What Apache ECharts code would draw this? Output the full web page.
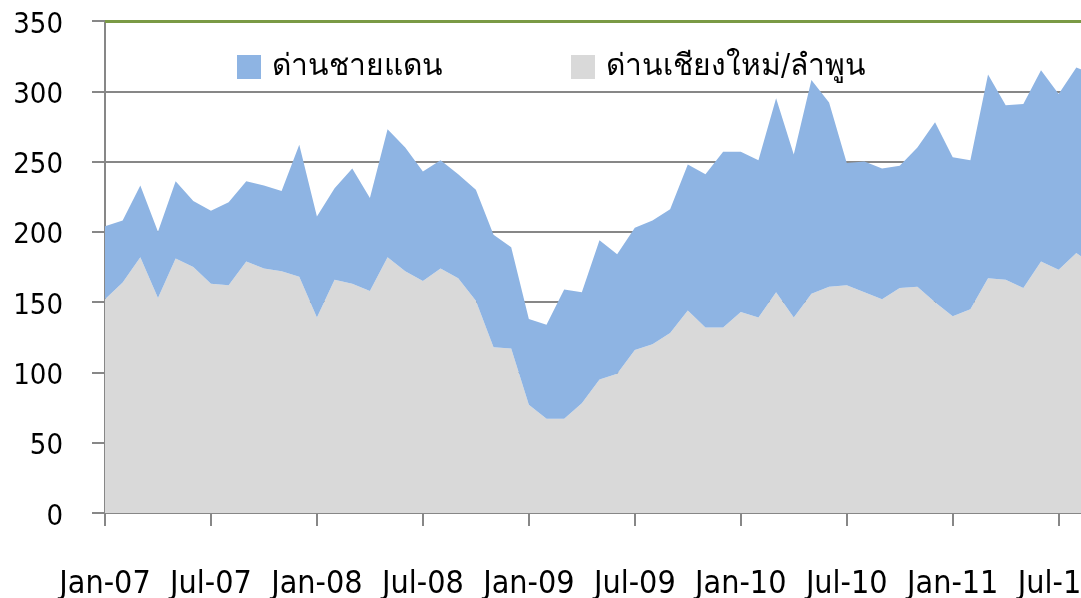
<!DOCTYPE html>
<html>
<head>
<meta charset="utf-8">
<script src="https://cdn.jsdelivr.net/npm/echarts@6/dist/echarts.min.js"></script>
<style>
  html, body { margin: 0; padding: 0; background: #fff; overflow: hidden; }
  #chart { width: 1120px; height: 598px; }
</style>
</head>
<body>
<div id="chart"></div>
<script>
// Monthly categories Jan-07 .. Sep-11
var monthNames = ['Jan', 'Feb', 'Mar', 'Apr', 'May', 'Jun', 'Jul', 'Aug', 'Sep', 'Oct', 'Nov', 'Dec'];
var categories = [];
for (var y = 7; y <= 11; y++) {
    for (var m = 0; m < 12; m++) {
        if (y === 11 && m > 8) break;
        categories.push(monthNames[m] + '-' + (y < 10 ? '0' + y : y));
    }
}

// ด่านเชียงใหม่/ลำพูน (bottom, grey)
var chiangmaiValues = [
    152, 164, 182, 153, 181, 175, 163, 162, 179, 174, 172, 168,
    139, 166, 163, 158, 182, 172, 165, 174, 167, 151, 118, 117,
    77, 67, 67, 78, 95, 99, 116, 120, 128, 144, 132, 132,
    143, 139, 157, 139, 156, 161, 162, 157, 152, 160, 161, 150,
    140, 145, 167, 166, 160, 179, 173, 185, 176
];

// ด่านชายแดน (stacked on top, blue)
var borderValues = [
    52, 44, 51, 47, 55, 47, 52, 59, 57, 59, 57, 94,
    72, 65, 82, 66, 91, 88, 78, 77, 74, 79, 80, 72,
    61, 67, 92, 79, 99, 85, 87, 88, 88, 104, 109, 125,
    114, 112, 138, 116, 152, 131, 87, 93, 93, 87, 99, 128,
    113, 106, 145, 124, 131, 136, 125, 132, 136
];

var yTicks = { min: 0, max: 350, interval: 50 };

var fontFamily = '"DejaVu Sans Condensed", "DejaVu Sans", sans-serif';
var axisGrey = '#878787';

var chart = echarts.init(document.getElementById('chart'));

var legendText = {
    fontFamily: fontFamily,
    fontSize: 30,
    color: '#000',
    padding: [0, 0, 0, 6]
};

chart.setOption({
    animation: false,
    textStyle: { fontFamily: fontFamily },
    grid: {
        left: 105,
        right: 26,
        top: 21,
        bottom: 85,
        containLabel: false,
        outerBoundsMode: 'none'
    },
    legend: [
        {
            left: 237,
            top: 52,
            padding: 0,
            icon: 'rect',
            itemWidth: 24,
            itemHeight: 24,
            data: ['ด่านชายแดน'],
            textStyle: legendText
        },
        {
            left: 571,
            top: 52,
            padding: 0,
            icon: 'rect',
            itemWidth: 24,
            itemHeight: 24,
            data: ['ด่านเชียงใหม่/ลำพูน'],
            textStyle: legendText
        }
    ],
    xAxis: {
        type: 'category',
        boundaryGap: false,
        data: categories,
        axisLine: { lineStyle: { color: axisGrey, width: 2 } },
        axisTick: {
            interval: 5,
            length: 13,
            lineStyle: { color: axisGrey, width: 2 }
        },
        axisLabel: {
            interval: 5,
            margin: 56,
            fontSize: 32,
            color: '#000',
            fontFamily: fontFamily
        },
        splitLine: { show: false }
    },
    yAxis: {
        type: 'value',
        min: yTicks.min,
        max: yTicks.max,
        interval: yTicks.interval,
        axisLine: { show: true, lineStyle: { color: axisGrey, width: 2 } },
        axisTick: {
            show: true,
            length: 13,
            lineStyle: { color: axisGrey, width: 2 }
        },
        axisLabel: {
            margin: 42,
            fontSize: 29,
            verticalAlign: 'top',
            lineHeight: 8,
            color: '#000',
            fontFamily: fontFamily
        },
        splitLine: { lineStyle: { color: axisGrey, width: 2 } }
    },
    series: [
        {
            name: 'ด่านเชียงใหม่/ลำพูน',
            type: 'line',
            stack: 'total',
            data: chiangmaiValues,
            symbol: 'none',
            lineStyle: { width: 0 },
            itemStyle: { color: '#d9d9d9' },
            areaStyle: { color: '#d9d9d9', opacity: 1 },
            z: 2
        },
        {
            name: 'ด่านชายแดน',
            type: 'line',
            stack: 'total',
            data: borderValues,
            symbol: 'none',
            lineStyle: { width: 0 },
            itemStyle: { color: '#8eb4e3' },
            areaStyle: { color: '#8eb4e3', opacity: 1 },
            z: 2,
            markLine: {
                silent: true,
                symbol: 'none',
                label: { show: false },
                lineStyle: { color: '#7a9a45', width: 3, type: 'solid' },
                data: [{ yAxis: 350 }]
            }
        }
    ]
});
</script>
</body>
</html>
